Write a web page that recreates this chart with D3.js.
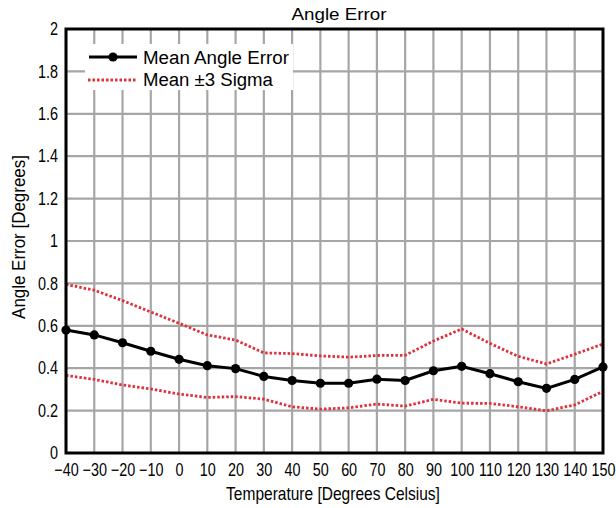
<!DOCTYPE html>
<html><head><meta charset="utf-8">
<script src="https://cdn.jsdelivr.net/npm/d3@7"></script>
<style>
body{margin:0;background:#fff;}
text{font-family:Arial,"Liberation Sans",Helvetica,sans-serif;fill:#000;}
</style></head>
<body><svg id="c" width="616" height="508"></svg>
<script>
const temps = [-40,-30,-20,-10,0,10,20,30,40,50,60,70,80,90,100,110,120,130,140,150];
const meanErr = [0.580,0.557,0.520,0.480,0.442,0.412,0.398,0.361,0.342,0.329,0.329,0.348,0.342,0.388,0.409,0.374,0.336,0.305,0.347,0.406];
const upper3s = [0.795,0.768,0.719,0.665,0.612,0.557,0.533,0.472,0.469,0.458,0.452,0.460,0.461,0.528,0.585,0.517,0.456,0.420,0.466,0.514];
const lower3s = [0.366,0.347,0.321,0.302,0.278,0.262,0.266,0.254,0.218,0.207,0.213,0.231,0.221,0.253,0.235,0.234,0.218,0.199,0.227,0.291];
const xTicks = [-40,-30,-20,-10,0,10,20,30,40,50,60,70,80,90,100,110,120,130,140,150];
const yTicks = [0,0.2,0.4,0.6,0.8,1,1.2,1.4,1.6,1.8,2];
const seriesNames = ["Mean Angle Error","Mean \u00b13 Sigma"];

const svg = d3.select("#c");
const L=66, R=603, T=29, B=453;
const x = d3.scaleLinear().domain([-40,150]).range([L,R]);
const y = d3.scaleLinear().domain([0,2]).range([B,T]);
const fmtY = v => (v===0?"0":String(+v.toFixed(1)));
const fmtX = v => (v<0?"\u2212"+Math.abs(v):String(v));

// grid
const grid = svg.append("g");
grid.selectAll("line.v").data(xTicks).join("line")
  .attr("x1",d=>x(d)).attr("x2",d=>x(d)).attr("y1",T).attr("y2",B)
  .attr("stroke","#a6a6a6").attr("stroke-width",2.2);
grid.selectAll("line.h").data(yTicks).join("line")
  .attr("x1",L).attr("x2",R).attr("y1",d=>y(d)).attr("y2",d=>y(d))
  .attr("stroke","#a6a6a6").attr("stroke-width",2.2);

// axes labels via d3 axes (no lines)
const SX = 0.8;
const xa = svg.append("g").attr("transform",`translate(0,${B})`)
  .call(d3.axisBottom(x).tickValues(xTicks).tickFormat(fmtX).tickSize(0).tickPadding(10));
const ya = svg.append("g").attr("transform",`translate(${L},0)`)
  .call(d3.axisLeft(y).tickValues(yTicks).tickFormat(fmtY).tickSize(0).tickPadding(8));
[xa,ya].forEach(g=>{
  g.select(".domain").remove();
  g.selectAll("text").attr("font-size",18).attr("font-family","Arial,'Liberation Sans',sans-serif").attr("fill","#000");
});
xa.selectAll("text").attr("transform",`scale(${SX},1)`);
ya.selectAll("text").attr("x",-8/SX).attr("transform",`scale(${SX},1)`);

// lines
const line = d3.line().x((d,i)=>x(temps[i])).y(d=>y(d));
svg.append("path").datum(upper3s).attr("d",line).attr("fill","none")
  .attr("stroke","#e0303c").attr("stroke-width",2.8).attr("stroke-dasharray","2.5,2");
svg.append("path").datum(lower3s).attr("d",line).attr("fill","none")
  .attr("stroke","#e0303c").attr("stroke-width",2.8).attr("stroke-dasharray","2.5,2");
svg.append("path").datum(meanErr).attr("d",line).attr("fill","none")
  .attr("stroke","#000").attr("stroke-width",3);
svg.selectAll("circle.m").data(meanErr).join("circle")
  .attr("cx",(d,i)=>x(temps[i])).attr("cy",d=>y(d)).attr("r",4.6).attr("fill","#000");

// frame
svg.append("rect").attr("x",L).attr("y",T).attr("width",R-L).attr("height",B-T)
  .attr("fill","none").attr("stroke","#000").attr("stroke-width",3);

// fitted text helper
function fitText(txt, px, py, targetW, anchor, fs, rot){
  const t = svg.append("text").attr("font-size",fs).attr("text-anchor",anchor).text(txt);
  const w = t.node().getComputedTextLength();
  const s = targetW / w;
  t.attr("transform",`translate(${px},${py})${rot?" rotate(-90)":""} scale(${s},1)`);
  return t;
}

// legend
const lg = svg.append("g");
lg.append("rect").attr("x",85).attr("y",44).attr("width",208).attr("height",46).attr("fill","#fff");
lg.append("line").attr("x1",89).attr("x2",137).attr("y1",57).attr("y2",57).attr("stroke","#000").attr("stroke-width",3);
lg.append("circle").attr("cx",113).attr("cy",57).attr("r",4.6).attr("fill","#000");
lg.append("line").attr("x1",88).attr("x2",137).attr("y1",80).attr("y2",80).attr("stroke","#e0303c").attr("stroke-width",2.8).attr("stroke-dasharray","2.5,2");
fitText(seriesNames[0],143,63.5,146,"start",18);
fitText(seriesNames[1],143,86,130,"start",18);

// titles
fitText("Angle Error",339,20,95,"middle",17);
fitText("Temperature [Degrees Celsius]",333,500,214,"middle",18);
fitText("Angle Error [Degrees]",25,237,164,"middle",18,true);
</script></body></html>
